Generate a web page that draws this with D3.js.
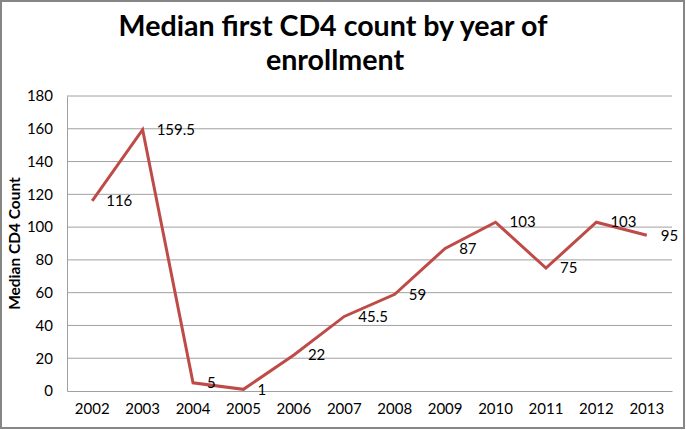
<!DOCTYPE html>
<html><head><meta charset="utf-8">
<script src="https://cdn.jsdelivr.net/npm/d3@7"></script>
<style>body{margin:0;background:#fff}svg{display:block}</style>
</head><body>
<script>
const years = ["2002","2003","2004","2005","2006","2007","2008","2009","2010","2011","2012","2013"];
const medianCD4 = [116,159.5,5,1,22,45.5,59,87,103,75,103,95];
const labels = ["116","159.5","5","1","22","45.5","59","87","103","75","103","95"];
const yTicks = [0,20,40,60,80,100,120,140,160,180];

const W=686,H=430;
const font="Lato, 'Open Sans', sans-serif";
const svg=d3.select("body").append("svg").attr("width",W).attr("height",H);
svg.append("rect").attr("x",1).attr("y",1).attr("width",W-3).attr("height",H-3)
  .attr("fill","#fff").attr("stroke","#868686").attr("stroke-width",2);

const m={l:67,r:672,t:96,b:391};
const x=d3.scaleBand().domain(years).range([m.l,m.r]);
const y=d3.scaleLinear().domain([0,180]).range([m.b,m.t]);

// gridlines
svg.append("g").selectAll("line").data(yTicks.filter(d=>d>0)).join("line")
  .attr("x1",m.l).attr("x2",m.r).attr("y1",d=>y(d)).attr("y2",d=>y(d))
  .attr("stroke","#a0a0a0").attr("stroke-width",1);

// y axis
const ya=svg.append("g").attr("transform",`translate(${m.l},0)`)
  .call(d3.axisLeft(y).tickValues(yTicks).tickSize(0).tickPadding(14));
ya.select(".domain").attr("stroke","#a0a0a0");
ya.selectAll("text").attr("font-family",font).attr("font-size",15).attr("fill","#000");

// x axis
const xa=svg.append("g").attr("transform",`translate(0,${m.b})`)
  .call(d3.axisBottom(x).tickSize(0).tickPadding(12));
xa.select(".domain").attr("stroke","#a0a0a0");
xa.selectAll("text").attr("font-family",font).attr("font-size",15).attr("fill","#000");

// line
const line=d3.line().x((d,i)=>x(years[i])+x.bandwidth()/2).y(d=>y(d));
svg.append("path").datum(medianCD4).attr("d",line).attr("fill","none")
  .attr("stroke","#BE4B48").attr("stroke-width",3).attr("stroke-linejoin","miter");

// data labels
svg.append("g").selectAll("text").data(medianCD4).join("text")
  .attr("x",(d,i)=>x(years[i])+x.bandwidth()/2+14)
  .attr("y",d=>y(d)).attr("dy","0.35em")
  .attr("font-family",font).attr("font-size",15).attr("fill","#000")
  .text((d,i)=>labels[i]);

// title
const t=svg.append("text").attr("text-anchor","middle").attr("font-family",font)
  .attr("font-weight","bold").attr("font-size",28.6).attr("fill","#000");
t.append("tspan").attr("x",333).attr("y",36).text("Median first CD4 count by year of");
t.append("tspan").attr("x",335).attr("y",70).text("enrollment");

// y label
svg.append("text").attr("transform",`translate(20,${(m.t+m.b)/2}) rotate(-90)`)
  .attr("text-anchor","middle").attr("font-family",font).attr("font-weight","bold")
  .attr("font-size",15.5).attr("fill","#000").text("Median CD4 Count");
</script>
</body></html>
